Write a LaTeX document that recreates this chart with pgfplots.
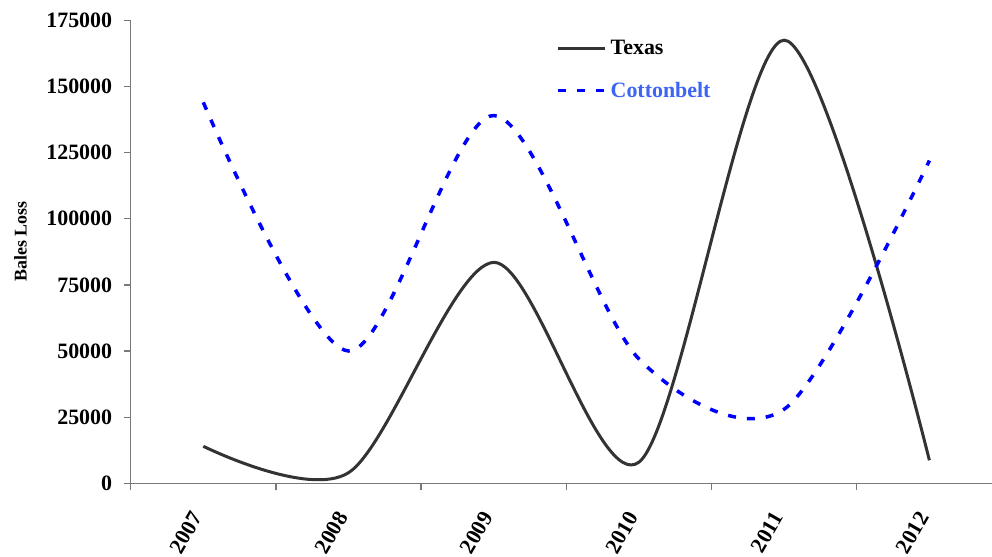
\documentclass[border=0pt]{standalone}
\usepackage{fontspec}
\setmainfont{Liberation Serif}
\usepackage{pgfplots}
\pgfplotsset{compat=1.18}
\definecolor{texas}{RGB}{51,51,51}
\definecolor{cbblue}{RGB}{0,0,255}
\definecolor{cbtext}{RGB}{60,100,245}
\definecolor{axgray}{RGB}{120,120,120}
\begin{document}
\begin{tikzpicture}
\useasboundingbox (-130.7bp,-73.7bp) rectangle (861.3bp,483.3bp);
\begin{axis}[
  at={(0,0)}, anchor=south west,
  scale only axis, width=871.3bp, height=463bp,
  xmin=-0.5, xmax=5.5, ymin=0, ymax=175000,
  axis x line=bottom, axis y line=left,
  axis line style={-, axgray, line width=1.3bp},
  clip=false,
  xtick={0,1,2,3,4,5},
  xticklabels={2007,2008,2009,2010,2011,2012},
  minor xtick={-0.5,0.5,1.5,2.5,3.5,4.5,5.5},
  major x tick style={draw=none},
  minor x tick style={axgray, line width=1.3bp},
  minor tick length=7bp,
  ytick={0,25000,50000,75000,100000,125000,150000,175000},
  yticklabels={0,25000,50000,75000,100000,125000,150000,175000},
  y tick style={axgray, line width=1.3bp},
  major tick length=6.4bp,
  tick align=outside,
  scaled y ticks=false,
  tick label style={font=\bfseries\fontsize{22}{24}\selectfont, black},
  xticklabel style={xshift=-6bp, yshift=-24bp, rotate=60, anchor=east, inner sep=0pt},
  yticklabel style={inner sep=0pt, xshift=-12bp},
  ylabel={Bales Loss},
  ylabel style={at={(axis description cs:-0.1265,0.522)}, anchor=center, font=\bfseries\fontsize{18}{20}\selectfont},
  legend style={at={(0.4847,0.962)}, anchor=north west, draw=none, fill=none,
    font=\bfseries\fontsize{22}{24}\selectfont, row sep=26bp,
    nodes={inner sep=0pt},
    /tikz/every odd column/.append style={column sep=4bp}},
  legend cell align=left,
  legend image code/.code={\draw[#1] (0bp,0bp) -- (47bp,0bp);},
]
\addplot[texas, line width=3bp, smooth, tension=0.5] coordinates {
  (0,14000) (1,4000) (2,83500) (3,8000) (4,167500) (5,8700)
};
\addlegendentry{Texas}
\addplot[cbblue, line width=3.5bp, smooth, tension=0.5, dash pattern=on 8bp off 11bp] coordinates {
  (0,144000) (1,50000) (2,139000) (3,47000) (4,28000) (5,122000)
};
\addlegendentry{\textcolor{cbtext}{Cottonbelt}}
\end{axis}
\end{tikzpicture}
\end{document}
